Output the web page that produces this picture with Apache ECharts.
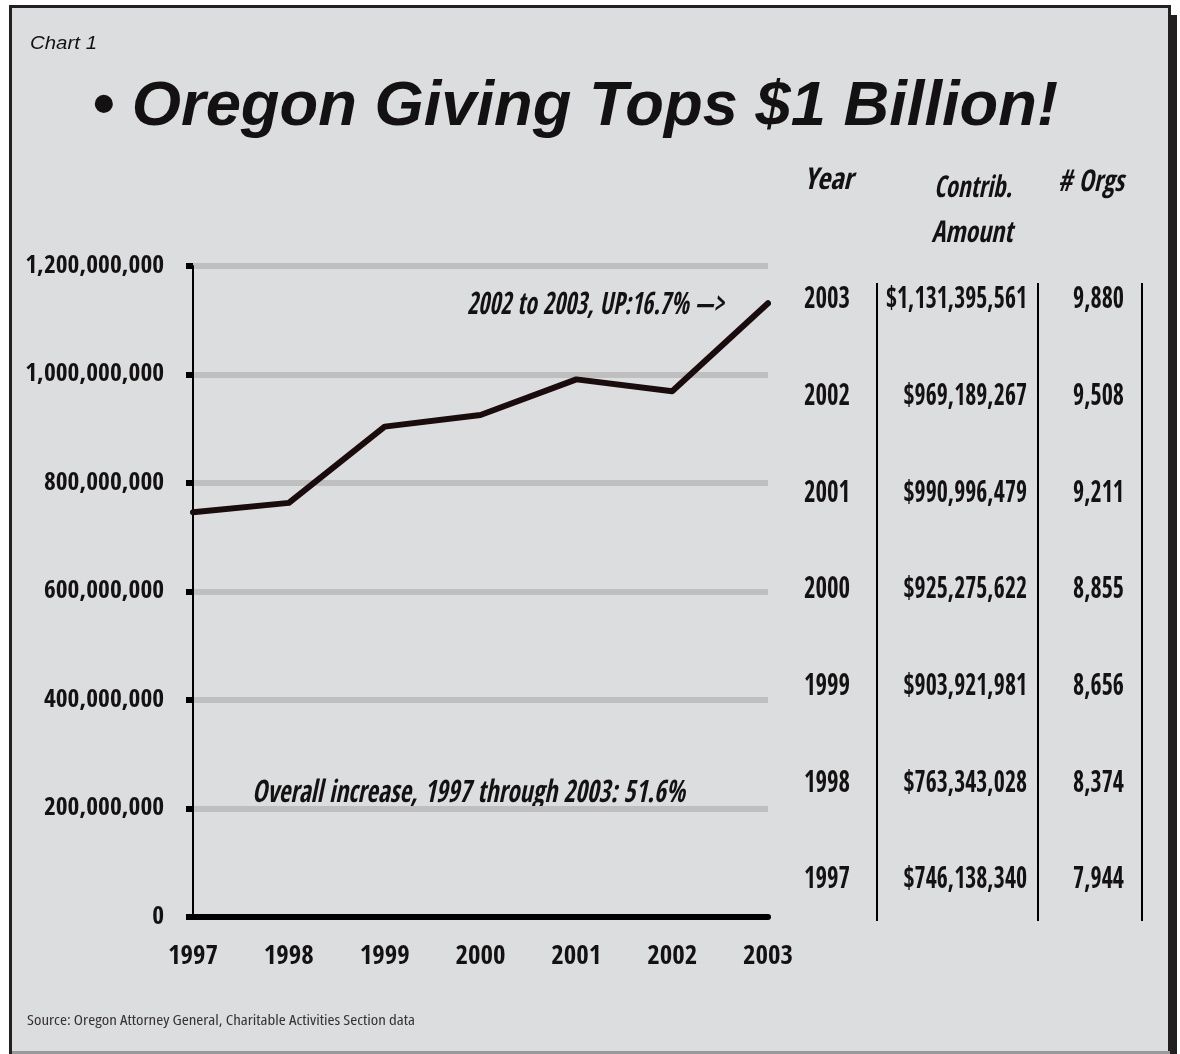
<!DOCTYPE html>
<html><head><meta charset="utf-8">
<script src="https://cdn.jsdelivr.net/npm/echarts@6/dist/echarts.min.js"></script>
<style>html,body{margin:0;padding:0;background:#fff}#c{width:1180px;height:1054px}</style>
</head><body><div id="c"></div>
<script>
// ---- data ----
const years = ['1997', '1998', '1999', '2000', '2001', '2002', '2003'];
const amounts = [746138340, 763343028, 903921981, 925275622, 990996479, 969189267, 1131395561];
const orgs = [7944, 8374, 8656, 8855, 9211, 9508, 9880];
const tableColumns = ['Year', 'Amount', 'Orgs'];
const yMin = 0, yMax = 1200000000, yStep = 200000000;

const COND = "'Open Sans Condensed','Roboto Condensed','DejaVu Sans Condensed',sans-serif";
const SANS = "'Liberation Sans',Arial,sans-serif";
const INK = '#141112';
const fmt = n => n.toLocaleString('en-US');
const DY = 3; // baseline nudge for the condensed face

const mctx = document.createElement('canvas').getContext('2d');
function fitScale(text, font, w) { mctx.font = font; return w / mctx.measureText(text).width; }

const chart = echarts.init(document.getElementById('c'), null, {renderer: 'canvas'});

const TABLE_FONT = 'bold 30px ' + COND;
function tableSeries(col, textFn, align, dx, sample, sampleWidth) {
  const sx = fitScale(sample, TABLE_FONT, sampleWidth);
  return {
    type: 'custom', coordinateSystem: 'cartesian2d', xAxisIndex: 1, yAxisIndex: 1,
    silent: true,
    data: years.map((y, i) => [col, i]),
    renderItem: (params, api) => {
      const p = api.coord([api.value(0), api.value(1)]);
      return {
        type: 'text', x: p[0] + dx, y: p[1] + DY, scaleX: sx,
        style: {text: textFn(params.dataIndex), font: TABLE_FONT, fill: INK,
          textAlign: align, textVerticalAlign: 'middle'}
      };
    }
  };
}

function fitText(text, font, x, y, w, align, fill) {
  return {
    type: 'text', x: x, y: y, scaleX: fitScale(text, font, w), silent: true,
    style: {text: text, font: font, fill: fill || INK, textAlign: align || 'left', textVerticalAlign: 'middle'}
  };
}

const HEAD_FONT = 'italic bold 30px ' + COND;
const NOTE_FONT = 'italic bold 31px ' + COND;
const SRC_FONT = "condensed 15px 'Open Sans',sans-serif";

const option = {
  backgroundColor: '#dcdddf',
  animation: false,
  grid: [
    {left: 193, right: 412, top: 266, bottom: 137},
    {left: 764, right: 14, top: 249, bottom: 128}
  ],
  xAxis: [
    {
      type: 'category', gridIndex: 0, data: years, boundaryGap: false,
      axisLine: {show: true, lineStyle: {color: '#000', width: 6}},
      axisTick: {show: false},
      axisLabel: {fontFamily: COND, fontWeight: 'bold', fontSize: 27, color: INK, margin: 26},
      splitLine: {show: false}
    },
    {type: 'category', gridIndex: 1, data: tableColumns, show: false}
  ],
  yAxis: [
    {
      type: 'value', gridIndex: 0, min: yMin, max: yMax, interval: yStep,
      axisLine: {show: true, lineStyle: {color: '#000', width: 2}},
      axisTick: {show: true, length: 7, lineStyle: {color: '#000', width: 6}},
      axisLabel: {fontFamily: COND, fontWeight: 'bold', fontSize: 25.5, color: INK, margin: 29,
        formatter: v => fmt(v)},
      splitLine: {show: true, lineStyle: {color: '#bfbfbf', width: 6}}
    },
    {type: 'category', gridIndex: 1, data: years, show: false}
  ],
  series: [
    {
      type: 'line', xAxisIndex: 0, yAxisIndex: 0, data: amounts,
      symbol: 'none', lineStyle: {color: '#1a0b0c', width: 6, cap: 'round', join: 'round'},
      z: 5
    },
    tableSeries(0, i => years[i], 'center', -4, '2003', 46),
    tableSeries(1, i => '$' + fmt(amounts[i]), 'right', 62, '$1,131,395,561', 141),
    tableSeries(2, i => fmt(orgs[i]), 'right', 25, '9,880', 51)
  ],
  graphic: [
    // white surround outside the frame
    {type: 'rect', shape: {x: 0, y: 0, width: 1180, height: 5}, style: {fill: '#fff'}, silent: true},
    {type: 'rect', shape: {x: 0, y: 0, width: 9, height: 1054}, style: {fill: '#fff'}, silent: true},
    {type: 'rect', shape: {x: 1170, y: 0, width: 10, height: 15}, style: {fill: '#fff'}, silent: true},
    {type: 'rect', shape: {x: 1177, y: 0, width: 3, height: 1054}, style: {fill: '#fff'}, silent: true},
    // frame
    {type: 'rect', shape: {x: 10.5, y: 6.5, width: 1159, height: 1050}, style: {fill: 'none', stroke: '#231f20', lineWidth: 3}, silent: true},
    {type: 'rect', shape: {x: 1170, y: 15, width: 7, height: 1039}, style: {fill: '#231f20'}, silent: true},
    {type: 'rect', shape: {x: 12, y: 1051, width: 1158, height: 3}, style: {fill: '#9a9a9a'}, silent: true},
    // texts
    fitText('Chart 1', 'italic 18px ' + SANS, 30, 44, 67),
    fitText('\u2022 Oregon Giving Tops $1 Billion!', 'italic bold 63px ' + SANS, 92, 108, 966),
    fitText('Year', HEAD_FONT, 804, 178 + DY, 49),
    fitText('Contrib.', HEAD_FONT, 973, 186 + DY, 78, 'center'),
    fitText('Amount', HEAD_FONT, 972, 231 + DY, 81, 'center'),
    fitText('# Orgs', HEAD_FONT, 1058, 180 + DY, 66),
    fitText('2002 to 2003, UP:16.7% \u2014>', NOTE_FONT, 467, 303 + DY, 257),
    fitText('Overall increase, 1997 through 2003: 51.6%', NOTE_FONT, 252, 791 + DY, 433),
    fitText('Source: Oregon Attorney General, Charitable Activities Section data', SRC_FONT, 27, 1021, 388, 'left', '#333'),
    // table rules
    {type: 'line', shape: {x1: 877, y1: 283, x2: 877, y2: 921}, style: {stroke: '#000', lineWidth: 2}, silent: true},
    {type: 'line', shape: {x1: 1038, y1: 283, x2: 1038, y2: 921}, style: {stroke: '#000', lineWidth: 2}, silent: true},
    {type: 'line', shape: {x1: 1142, y1: 283, x2: 1142, y2: 921}, style: {stroke: '#000', lineWidth: 2}, silent: true}
  ]
};
chart.setOption(option);
</script>
</body></html>
